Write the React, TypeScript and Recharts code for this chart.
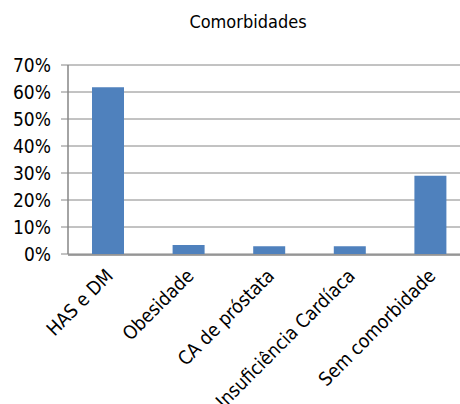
import { BarChart, Bar, XAxis, YAxis, CartesianGrid } from 'recharts';

const categories = ['HAS e DM', 'Obesidade', 'CA de próstata', 'Insuficiência Cardíaca', 'Sem comorbidade'];
const shares = [61.8, 3.3, 2.9, 2.9, 29.0];
const yTicks = [0, 10, 20, 30, 40, 50, 60, 70];
const edgeTicks = [0, 1, 2, 3, 4, 5];

const data = categories.map((name, i) => ({ name, value: shares[i], pos: i + 0.5 }));

const FONT = "'DejaVu Sans Condensed', 'DejaVu Sans', sans-serif";
const GRID = '#868686';

const CategoryTick = (props: any) => {
  const { x, y, payload } = props;
  return (
    <text
      transform={`translate(${x + 6}, ${y + 15}) rotate(-45)`}
      textAnchor="end"
      fontSize={19}
      fontFamily={FONT}
      fill="#000"
    >
      {payload.value}
    </text>
  );
};

export default function App() {
  return (
    <div
      style={{
        position: 'fixed',
        left: 0,
        top: 0,
        width: 460,
        height: 404,
        overflow: 'hidden',
        background: '#fff',
      }}
    >
      <svg width={460} height={40} style={{ position: 'absolute', left: 0, top: 0 }}>
        <text x={248} y={28} textAnchor="middle" fontSize={18} fontFamily={FONT} fill="#000">
          Comorbidades
        </text>
      </svg>
      <div style={{ position: 'absolute', left: 0, top: 0 }}>
        <BarChart
          width={480}
          height={404}
          data={data}
          margin={{ top: 65, right: 9, left: 0, bottom: 148 }}
        >
          <CartesianGrid xAxisId="cat" horizontal vertical={false} stroke={GRID} />
          <XAxis
            xAxisId="edge"
            dataKey="pos"
            type="number"
            domain={[0, 5]}
            ticks={edgeTicks}
            allowDataOverflow
            tick={false}
            tickSize={6}
            height={1}
            axisLine={{ stroke: GRID, strokeWidth: 1.5 }}
            tickLine={{ stroke: GRID, strokeWidth: 1.5 }}
          />
          <XAxis
            xAxisId="cat"
            dataKey="name"
            interval={0}
            height={1}
            axisLine={false}
            tickLine={false}
            tick={<CategoryTick />}
          />
          <YAxis
            width={68}
            domain={[0, 70]}
            ticks={yTicks}
            interval={0}
            tickFormatter={(v: number) => `${v}%`}
            tickSize={7}
            tickMargin={10}
            axisLine={{ stroke: GRID, strokeWidth: 1.5 }}
            tickLine={{ stroke: GRID }}
            tick={{ fill: '#000', fontSize: 19, fontFamily: FONT }}
          />
          <Bar xAxisId="cat" dataKey="value" fill="#4F81BD" barSize={32} isAnimationActive={false} />
        </BarChart>
      </div>
    </div>
  );
}
